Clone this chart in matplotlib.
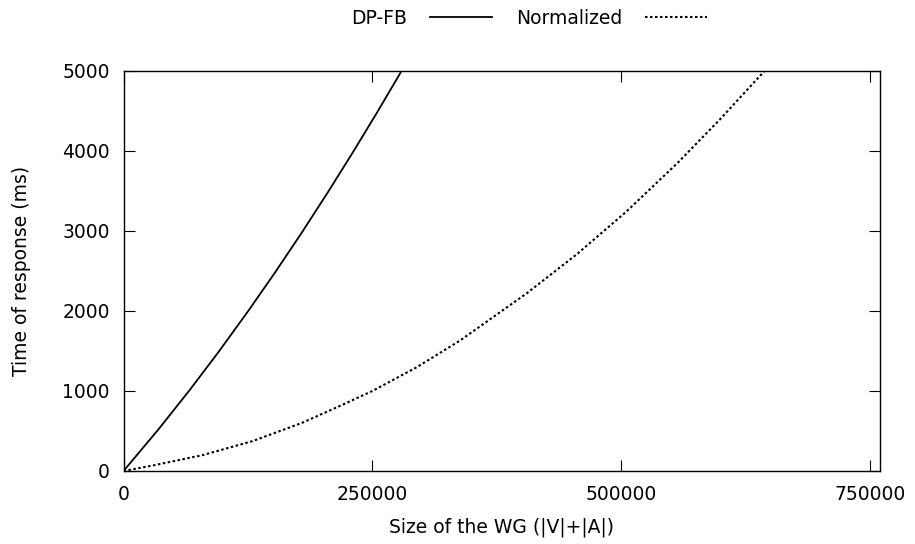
import matplotlib
matplotlib.use("Agg")
import matplotlib.pyplot as plt

# values
wg_dpfb = [0, 35000, 66800, 95000, 125300, 152000, 178900, 205000, 230700, 255000, 279300]
ms_dpfb = [0, 519, 1017, 1480, 2000, 2477, 2976, 3478, 3989, 4487, 5000]

wg_norm = [0, 30000, 80000, 130000, 180000, 215000, 250000, 295000, 338000,
           405000, 455000, 505000, 557000, 600000, 644000]
ms_norm = [0, 70, 200, 375, 605, 800, 1000, 1300, 1630,
           2220, 2705, 3240, 3855, 4405, 5000]

plt.rcParams['font.family'] = 'DejaVu Sans'
plt.rcParams['font.size'] = 13.5

fig = plt.figure(figsize=(9.15, 5.44), dpi=100)
ax = fig.add_axes([0.135, 0.1342, 0.8267, 0.7353])

ax.plot(wg_dpfb, ms_dpfb, color='black', lw=1.3, label='DP-FB')
ax.plot(wg_norm, ms_norm, color='black', lw=1.5, linestyle=(0, (1.2, 1.2)), label='Normalized')

ax.set_xlim(0, 760000)
ax.set_ylim(0, 5000)
ax.set_xticks([0, 250000, 500000, 750000])
ax.set_yticks([0, 1000, 2000, 3000, 4000, 5000])
ax.tick_params(direction='in', length=8, width=0.8, top=True, right=True, pad=10)
for s in ax.spines.values():
    s.set_linewidth(1.0)

ax.set_xlabel('Size of the WG (|V|+|A|)', labelpad=10)
ax.set_ylabel('Time of response (ms)', labelpad=22)

fig.legend(loc='center', bbox_to_anchor=(0.578, 0.966), ncol=2, frameon=False,
           markerfirst=False, handlelength=3.3, handletextpad=1.2, columnspacing=1.3)

fig.savefig('out.png', dpi=100)
